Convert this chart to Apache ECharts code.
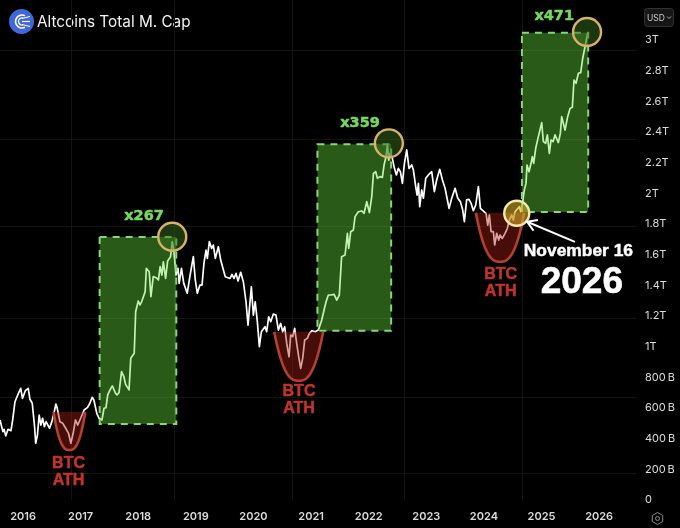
<!DOCTYPE html>
<html><head><meta charset="utf-8">
<style>html,body{margin:0;padding:0;background:#000}#c{width:680px;height:528px}</style>
<script src="https://cdn.jsdelivr.net/npm/echarts@6/dist/echarts.min.js"></script>
</head><body><div id="c"></div>
<script>
const years = [2015.60,2015.62,2015.65,2015.67,2015.70,2015.74,2015.79,2015.82,2015.86,2015.89,2015.92,2015.96,2015.99,2016.04,2016.09,2016.12,2016.16,2016.20,2016.22,2016.25,2016.28,2016.31,2016.34,2016.37,2016.40,2016.46,2016.50,2016.53,2016.57,2016.59,2016.64,2016.69,2016.74,2016.79,2016.83,2016.87,2016.91,2016.95,2017.00,2017.06,2017.12,2017.16,2017.20,2017.23,2017.28,2017.32,2017.37,
2017.405,2017.44,2017.47,2017.51,2017.55,2017.60,2017.63,2017.666,2017.71,2017.75,2017.78,2017.84,2017.87,2017.93,2017.955,2017.984,2018.00,2018.03,2018.06,2018.12,2018.14,2018.19,2018.22,2018.26,2018.31,2018.35,2018.38,2018.41,2018.435,2018.475,2018.51,2018.56,2018.59,2018.615,2018.64,
2018.655,2018.69,2018.71,2018.75,2018.79,2018.85,2018.90,2018.956,2018.99,2019.025,2019.07,2019.107,2019.14,2019.176,2019.199,2019.234,2019.274,2019.303,2019.338,2019.39,2019.431,2019.465,2019.51,2019.593,2019.627,2019.662,2019.697,2019.732,2019.778,2019.824,2019.87,2019.905,2019.928,2019.963,2019.998,2020.03,2020.067,2020.102,2020.137,2020.171,2020.20,2020.229,2020.264,
2020.299,2020.345,2020.391,2020.432,2020.472,2020.507,2020.542,2020.577,2020.617,2020.646,2020.681,2020.715,2020.75,2020.785,2020.82,2020.854,2020.889,2020.935,2020.97,2021.016,2021.074,2021.126,
2021.144,2021.185,2021.225,2021.26,2021.30,2021.34,2021.40,2021.445,2021.49,2021.53,2021.59,2021.63,2021.653,2021.688,2021.734,2021.763,2021.82,2021.879,2021.92,2021.966,2022.012,2022.053,2022.082,2022.122,2022.151,2022.197,2022.238,2022.267,2022.30,2022.325,2022.348,2022.37,
2022.411,2022.446,2022.481,2022.515,2022.55,2022.585,2022.62,2022.66,2022.70,2022.747,2022.776,2022.816,2022.84,2022.863,2022.886,2022.92,2022.95,2022.99,2023.036,2023.07,2023.094,2023.14,2023.18,2023.233,2023.28,2023.326,2023.36,2023.395,2023.441,2023.50,2023.546,2023.592,2023.632,2023.661,2023.70,2023.742,2023.777,2023.817,2023.858,2023.904,2023.939,
2023.96,2024.002,2024.037,2024.066,2024.095,2024.124,2024.164,2024.187,2024.222,2024.257,2024.28,2024.32,2024.367,2024.407,2024.442,2024.482,2024.511,2024.54,2024.569,2024.615,2024.639,2024.673,
2024.702,2024.731,2024.748,2024.783,2024.818,2024.841,2024.864,2024.899,2024.934,2024.968,2025.003,2025.032,2025.072,2025.101,2025.136,2025.165,2025.20,2025.234,2025.292,2025.327,2025.35,2025.408,2025.454,2025.495,2025.535,2025.564,2025.599,2025.64,2025.68,2025.715,2025.744,2025.767,2025.80];
const values = [522,511,446,461,418,461,452,522,641,631,696,728,663,713,728,657,631,478,370,424,554,489,533,478,511,468,511,554,626,604,511,500,468,435,370,435,522,489,533,587,604,631,670,652,565,533,522,
598,602,685,718,744,700,685,700,837,804,754,718,924,957,1228,1217,1298,1272,1294,1359,1511,1489,1326,1457,1450,1435,1522,1467,1554,1446,1559,1587,1685,1631,1533,
1467,1511,1413,1511,1413,1348,1467,1587,1435,1348,1402,1402,1543,1630,1576,1685,1641,1663,1576,1652,1565,1554,1456,1445,1471,1445,1478,1428,1485,1424,1293,1141,1141,1391,1206,1293,1163,1000,1098,1108,1130,1098,1195,
1163,1213,1206,1108,1152,1097,1130,1021,934,1076,1065,1119,1021,934,858,924,1043,1054,1087,1104,1097,1108,
1109,1174,1239,1293,1337,1337,1341,1304,1337,1587,1598,1739,1641,1750,1761,1848,1880,1885,1870,1946,1874,1978,2130,2141,2098,2109,2104,2185,2239,2315,2217,2261,
2228,2163,2120,2163,2141,2065,2196,2283,2163,2185,2152,2044,1989,2065,1913,2022,1968,2098,2120,2109,2141,2011,2087,2157,2087,2033,1968,1902,1968,2033,1968,1946,1891,1815,1957,1961,1935,1887,1924,2044,1902,
1902,1880,1869,1793,1859,1750,1750,1663,1739,1695,1728,1706,1739,1772,1826,1859,1826,1880,1869,1913,1880,1945,
2022,2065,2185,2141,2196,2239,2196,2294,2352,2359,2461,2337,2326,2381,2261,2348,2337,2381,2331,2391,2500,2413,2500,2554,2561,2739,2717,2783,2787,2881,2891,2978,3044];

// x from, x to, value low, value high
const gainZones = [[2017.33,2018.66,496,1715],[2021.11,2022.39,1104,2320],[2024.66,2025.81,1878,3048]];
const gainLabels = ['x267','x359','x471'];
const gainLabelAt = [[2018.10,1852],[2021.85,2459],[2025.22,3157]];
const peakRings = [[2018.59,1717],[2022.35,2326],[2025.79,3052]];
const nowRing = [[2024.57,1870]];
const athCups = [[2016.53,2017.08,326,574],[2020.36,2021.21,778,1098],[2023.86,2024.70,1554,1874]];
const athLabelAt = [[2016.79,179],[2020.79,652],[2024.29,1415]];
const arrowFromTo = [2025.58,1683,2024.75,1815];
const gridYears = [2016.83,2018.62,2020.67,2022.61,2024.66];
const gridValues = [176,672,1187,1787,2354,2935];
const noteDay = 'November 16', noteYear = '2026';
const title = 'Altcoins Total M. Cap';

const ringPx = 14;
function zoneItem(p, api){
  const z = gainZones[p.dataIndex];
  const a = api.coord([z[0],z[3]]), b = api.coord([z[1],z[2]]);
  return {type:'group',children:[
    {type:'rect',shape:{x:a[0],y:a[1],width:b[0]-a[0],height:b[1]-a[1]},style:{fill:'rgba(105,225,60,0.40)',stroke:'none'}},
    {type:'rect',shape:{x:a[0],y:a[1],width:b[0]-a[0],height:b[1]-a[1]},style:{fill:'none',stroke:'#86d877',lineWidth:2,lineDash:[7,6]}}
  ]};
}
function cupItem(p, api){
  const c = athCups[p.dataIndex];
  const l = api.coord([c[0],c[3]]), r = api.coord([c[1],c[2]]);
  const pts = [], mid=(l[0]+r[0])/2, hw=(r[0]-l[0])/2;
  for(let i=-24;i<=24;i++){
    const t=i/24;
    pts.push([mid+t*hw, r[1]-(r[1]-l[1])*Math.pow(Math.abs(t),2.6)]);
  }
  return {type:'group',children:[
    {type:'polygon',shape:{points:pts},style:{fill:'rgba(170,32,18,0.42)',stroke:'none'}},
    {type:'polyline',shape:{points:pts},style:{fill:'none',stroke:'#b5402f',lineWidth:2.6}}
  ]};
}
function ringItem(list, r, fill, stroke, w){
  return function(p, api){
    const c = api.coord(list[p.dataIndex]);
    return {type:'circle',shape:{cx:c[0],cy:c[1],r:r},style:{fill:fill,stroke:stroke,lineWidth:w}};
  };
}
function textItem(list, lab, font, fill, lh, sw){
  return function(p, api){
    const c = api.coord(list[p.dataIndex]);
    const st = {x:c[0],y:c[1],text:lab(p.dataIndex),font:font,fill:fill,align:'center',verticalAlign:'middle',lineHeight:lh};
    if(sw){st.stroke=fill;st.lineWidth=sw;}
    return {type:'text',style:st};
  };
}
function arrowItem(p, api){
  const a = api.coord([arrowFromTo[0],arrowFromTo[1]]), b = api.coord([arrowFromTo[2],arrowFromTo[3]]);
  const ang = Math.atan2(a[1]-b[1],a[0]-b[0]), h=11, sp=0.55;
  const h1=[b[0]+h*Math.cos(ang+sp),b[1]+h*Math.sin(ang+sp)], h2=[b[0]+h*Math.cos(ang-sp),b[1]+h*Math.sin(ang-sp)];
  return {type:'group',children:[
    {type:'line',shape:{x1:a[0],y1:a[1],x2:b[0],y2:b[1]},style:{stroke:'#fff',lineWidth:2}},
    {type:'polyline',shape:{points:[h1,b,h2]},style:{fill:'none',stroke:'#fff',lineWidth:2}}
  ]};
}
function gridItem(p, api){
  const ch = [];
  const lo = api.coord([2015.6,0]), hi = api.coord([2026.64,3261]);
  gridYears.forEach(v=>{const x=Math.round(api.coord([v,0])[0])+0.5;ch.push({type:'line',shape:{x1:x,y1:hi[1],x2:x,y2:lo[1]},style:{stroke:'#131313',lineWidth:1}});});
  gridValues.forEach(v=>{const y=Math.round(api.coord([2016,v])[1])+0.5;ch.push({type:'line',shape:{x1:lo[0],y1:y,x2:hi[0],y2:y},style:{stroke:'#131313',lineWidth:1}});});
  return {type:'group',children:ch};
}
function hexPts(cx,cy,r){const o=[];for(let i=0;i<6;i++){const a=Math.PI/6+i*Math.PI/3;o.push([cx+r*Math.cos(a),cy+r*Math.sin(a)]);}return o;}

const chart = echarts.init(document.getElementById('c'),null,{renderer:'canvas'});
const lab = {color:'#dcdcdc',fontFamily:'Inter, Roboto, sans-serif',fontSize:11};
chart.setOption({
  backgroundColor:'#000',animation:false,
  grid:{left:0,right:44,top:0,bottom:28,outerBoundsMode:'none',containLabel:false},
  xAxis:{type:'value',min:2015.6,max:2026.64,interval:0.2,
    axisLine:{show:false},axisTick:{show:false},splitLine:{show:false},
    axisLabel:{...lab,fontWeight:600,margin:11,showMaxLabel:false,hideOverlap:false,
      formatter:v=>Math.abs(v-Math.round(v))<0.01?String(Math.round(v)):''}},
  yAxis:{type:'value',position:'right',min:0,max:3261,interval:200,
    axisLine:{show:false},axisTick:{show:false},splitLine:{show:false},
    axisLabel:{...lab,margin:9,showMaxLabel:false,padding:[3,0,0,0],
      formatter:v=>v>3000?'':(v>=1000?(v/1000)+'T':(v===0?'0':v+'\u2009B'))}},
  series:[
    {type:'custom',z:1,clip:false,silent:true,data:[[2016,0]],renderItem:gridItem},
    {type:'line',data:years.map((y,i)=>[y,values[i]]),showSymbol:false,symbol:'none',z:2,clip:false,
      lineStyle:{color:'#fff',width:1.7,join:'round'}},
    {type:'custom',z:3,clip:false,data:gainZones.map(z=>[z[0],z[2]]),renderItem:zoneItem},
    {type:'custom',z:3,clip:false,data:athCups.map(c=>[c[0],c[2]]),renderItem:cupItem},
    {type:'custom',z:4,clip:false,data:peakRings,renderItem:ringItem(peakRings,ringPx,'rgba(55,110,30,0.5)','#d8b266',2.4)},
    {type:'custom',z:4,clip:false,data:nowRing,renderItem:ringItem(nowRing,12.5,'rgba(215,180,40,0.58)','#f4e9ad',2.4)},
    {type:'custom',z:5,clip:false,data:gainLabelAt,renderItem:textItem(gainLabelAt,i=>gainLabels[i],'bold 14.5px "DejaVu Sans"','#76d85f',null,0.5)},
    {type:'custom',z:5,clip:false,data:athLabelAt,renderItem:textItem(athLabelAt,()=>'BTC\nATH','bold 16px "Liberation Sans"','#c2342b',17,0.5)},
    {type:'custom',z:5,clip:false,data:[[arrowFromTo[0],arrowFromTo[1]]],renderItem:arrowItem},
    {type:'custom',z:5,clip:false,data:[[2025.64,1624]],renderItem:textItem([[2025.64,1624]],()=>noteDay,'bold 17.4px "Liberation Sans"','#fff',null,0.5)},
    {type:'custom',z:5,clip:false,data:[[2025.70,1415]],renderItem:textItem([[2025.70,1415]],()=>noteYear,'bold 37px "Liberation Sans"','#fff',null,0.6)}
  ],
  graphic:[
    {type:'circle',shape:{cx:21.5,cy:21.5,r:12.5},style:{fill:'#3f69d8'}},
    {type:'arc',shape:{cx:22,cy:21.5,r:6.5,startAngle:Math.PI*0.35,endAngle:Math.PI*1.65},style:{fill:'none',stroke:'#fff',lineWidth:1.6}},
    {type:'arc',shape:{cx:22,cy:21.5,r:3.5,startAngle:Math.PI*0.4,endAngle:Math.PI*1.6},style:{fill:'none',stroke:'#fff',lineWidth:1.4}},
    {type:'line',shape:{x1:22,y1:18.5,x2:30,y2:16.5},style:{stroke:'#fff',lineWidth:1.2}},
    {type:'line',shape:{x1:22,y1:21.5,x2:30,y2:21.5},style:{stroke:'#fff',lineWidth:1.2}},
    {type:'line',shape:{x1:22,y1:24.5,x2:30,y2:26.5},style:{stroke:'#fff',lineWidth:1.2}},
    {type:'text',style:{x:37,y:22,text:title,fill:'#f2f2f2',font:'15.3px Inter',verticalAlign:'middle'}},
    {type:'rect',shape:{x:644.5,y:8.5,width:29,height:18,r:3},style:{fill:'#161616',stroke:'#333'}},
    {type:'text',style:{x:647,y:18,text:'USD',fill:'#c8c8c8',font:'8.5px Inter',verticalAlign:'middle'}},
    {type:'polyline',shape:{points:[[667,16.5],[669,18.5],[671,16.5]]},style:{fill:'none',stroke:'#aaa',lineWidth:1}},
    {type:'polygon',shape:{points:hexPts(657.5,518.5,6)},style:{fill:'none',stroke:'#8a8a8a',lineWidth:1}},
    {type:'circle',shape:{cx:657.5,cy:518.5,r:2},style:{fill:'none',stroke:'#8a8a8a',lineWidth:1}}
  ]
});
</script></body></html>
